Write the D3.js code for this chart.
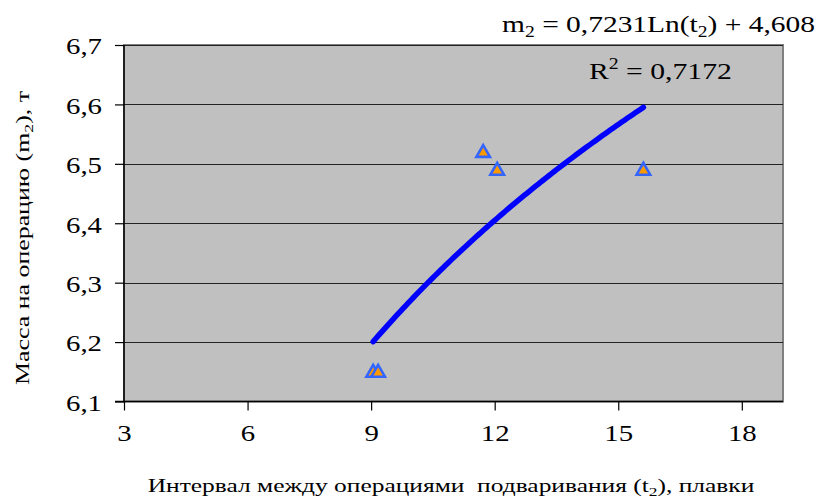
<!DOCTYPE html>
<html><head><meta charset="utf-8">
<script src="https://cdn.jsdelivr.net/npm/d3@7/dist/d3.min.js"></script>
<style>body{margin:0;background:#fff}svg{display:block}</style>
</head><body><svg id="c" width="822" height="502"></svg>
<script>
const xs = [9.05, 9.17, 11.72, 12.06, 15.61];
const ys = [6.15, 6.15, 6.52, 6.49, 6.49];
const xTicks = [3, 6, 9, 12, 15, 18];
const yTicks = [6.1, 6.2, 6.3, 6.4, 6.5, 6.6, 6.7];
const coefA = 0.7231, coefB = 4.608;
const fitRange = [9.05, 15.61];

const FF = "'Liberation Serif', 'Times New Roman', serif";
const svg = d3.select("#c");
const L = 124, R = 783, T = 45, B = 401.5;
const x = d3.scaleLinear().domain([3, 19]).range([L, R]);
const y = d3.scaleLinear().domain([6.1, 6.7]).range([B, T]);
const fmt = d => String(d).replace(".", ",");

// stretch text horizontally to a target width around anchor x
function fitWidth(sel, target) {
  sel.each(function () {
    const w = this.getBBox().width;
    const ax = +this.getAttribute("data-ax");
    const s = target / w;
    const prev = this.getAttribute("transform") || "";
    this.setAttribute("transform", prev + ` translate(${ax},0) scale(${s},1) translate(${-ax},0)`);
  });
}
function scaleX(sel, s) {
  sel.each(function () {
    const ax = +(this.getAttribute("x") || 0);
    this.setAttribute("transform", `translate(${ax},0) scale(${s},1) translate(${-ax},0)`);
  });
}

svg.append("rect").attr("x", L).attr("y", T).attr("width", R - L).attr("height", B - T)
  .attr("fill", "#C0C0C0").attr("stroke", "#808080").attr("stroke-width", 2);

svg.append("g").selectAll("line").data(yTicks.slice(1)).join("line")
  .attr("x1", L).attr("x2", R).attr("y1", d => Math.round(y(d)) + 0.5).attr("y2", d => Math.round(y(d)) + 0.5)
  .attr("stroke", "#222").attr("stroke-width", 1.2);

const ya = svg.append("g").attr("transform", `translate(${L},0)`)
  .call(d3.axisLeft(y).tickValues(yTicks).tickSize(9).tickPadding(13).tickFormat(fmt));
ya.select(".domain").attr("stroke", "#000").attr("stroke-width", 1.5).attr("d", `M0,${T}V${B}`);
ya.selectAll(".tick line").attr("stroke", "#000").attr("stroke-width", 1.2);
ya.selectAll(".tick text").attr("font-size", 24).attr("fill", "#000").attr("dy", "0.37em").style("font-family", FF);
scaleX(ya.selectAll(".tick text"), 1.2);

const xa = svg.append("g").attr("transform", `translate(0,${B})`)
  .call(d3.axisBottom(x).tickValues(xTicks).tickSize(9).tickPadding(13).tickFormat(fmt));
xa.select(".domain").attr("stroke", "#000").attr("stroke-width", 1.5).attr("d", `M${L - 9},0H${R}`);
xa.selectAll(".tick line").attr("stroke", "#000").attr("stroke-width", 1.2);
xa.selectAll(".tick text").attr("font-size", 24).attr("fill", "#000").style("font-family", FF);
scaleX(xa.selectAll(".tick text"), 1.2);

// trend line
const curve = d3.range(0, 101).map(i => {
  const t = fitRange[0] + (fitRange[1] - fitRange[0]) * i / 100;
  return [t, coefA * Math.log(t) + coefB];
});
svg.append("path").datum(curve)
  .attr("d", d3.line().x(d => x(d[0])).y(d => y(d[1])))
  .attr("fill", "none").attr("stroke", "#0000FF").attr("stroke-width", 5.5).attr("stroke-linecap", "round");

// markers
const tri = d3.symbol().type(d3.symbolTriangle).size(80);
svg.append("g").selectAll("path").data(xs.map((d, i) => [d, ys[i]])).join("path")
  .attr("d", tri).attr("transform", d => `translate(${x(d[0])},${y(d[1]) + 1})`)
  .attr("fill", "#FF9900").attr("stroke", "#3366FF").attr("stroke-width", 2.6).attr("stroke-linejoin", "miter");

// equation
const eq = svg.append("text").attr("x", 815).attr("y", 32).attr("data-ax", 815).attr("text-anchor", "end")
  .attr("font-size", 24).attr("fill", "#000").style("font-family", FF);
eq.append("tspan").text("m");
eq.append("tspan").text("2").attr("font-size", 16).attr("dy", 5);
eq.append("tspan").text(" = 0,7231Ln(t").attr("dy", -5);
eq.append("tspan").text("2").attr("font-size", 16).attr("dy", 5);
eq.append("tspan").text(") + 4,608").attr("dy", -5);
fitWidth(eq, 313);

const r2 = svg.append("text").attr("x", 589).attr("y", 79).attr("data-ax", 589)
  .attr("font-size", 24).attr("fill", "#000").style("font-family", FF);
r2.append("tspan").text("R");
r2.append("tspan").text("2").attr("font-size", 16).attr("dy", -10);
r2.append("tspan").text(" = 0,7172").attr("dy", 10);
fitWidth(r2, 143);

// axis titles
const ytg = svg.append("g").attr("transform", "translate(29,238) rotate(-90)");
const yt = ytg.append("text").attr("x", 0).attr("y", 0).attr("data-ax", 0).attr("text-anchor", "middle")
  .attr("font-size", 19).attr("fill", "#000").style("font-family", FF);
yt.append("tspan").text("Масса на операцию (m");
yt.append("tspan").text("2").attr("font-size", 13).attr("dy", 4);
yt.append("tspan").text("), т").attr("dy", -4);
fitWidth(yt, 295);

const xt = svg.append("text").attr("x", 451).attr("y", 492).attr("data-ax", 451).attr("text-anchor", "middle")
  .attr("font-size", 19).attr("fill", "#000").attr("xml:space", "preserve").style("font-family", FF);
xt.append("tspan").text("Интервал между операциями  подваривания (t");
xt.append("tspan").text("2").attr("font-size", 13).attr("dy", 4);
xt.append("tspan").text("), плавки").attr("dy", -4);
fitWidth(xt, 607);
</script></body></html>
